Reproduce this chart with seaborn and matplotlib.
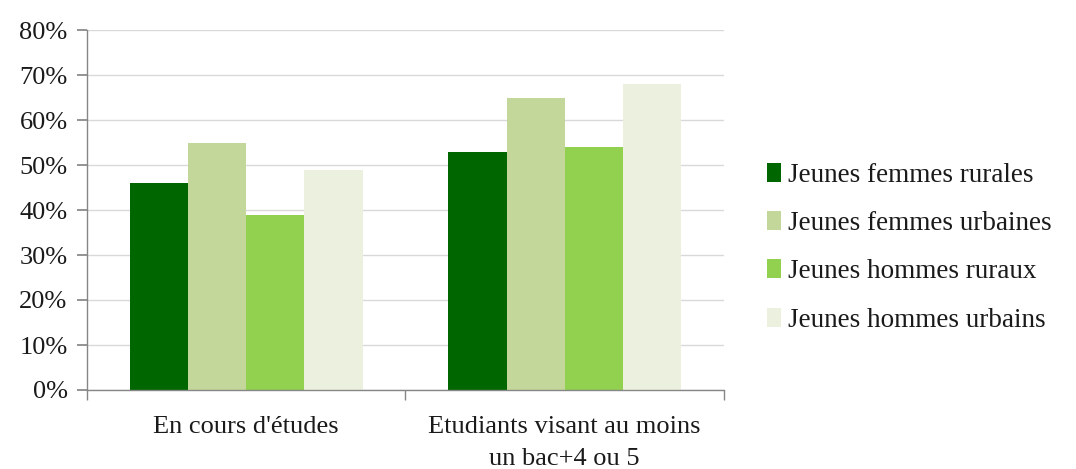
import pandas as pd
import matplotlib.pyplot as plt
import seaborn as sns
from matplotlib.ticker import PercentFormatter, FixedLocator

# Data
categories = ["En cours d'études", "Etudiants visant au moins\nun bac+4 ou 5"]
groups = ["Jeunes femmes rurales", "Jeunes femmes urbaines",
          "Jeunes hommes ruraux", "Jeunes hommes urbains"]
femmes_rurales = [46, 53]
femmes_urbaines = [55, 65]
hommes_ruraux = [39, 54]
hommes_urbains = [49, 68]
colors = ["#006600", "#C4D79B", "#92D050", "#EBF1DE"]
y_ticks = [0, 10, 20, 30, 40, 50, 60, 70, 80]

rows = []
for g, vals in zip(groups, [femmes_rurales, femmes_urbaines, hommes_ruraux, hommes_urbains]):
    for c, v in zip(categories, vals):
        rows.append({"Catégorie": c, "Groupe": g, "Valeur": v})
df = pd.DataFrame(rows)

sns.set_theme(style="white")
plt.rcParams['font.family'] = ['Liberation Serif', 'DejaVu Serif']

fig = plt.figure(figsize=(10.76, 4.69), dpi=100)
ax = fig.add_axes([87 / 1076, 1 - 390 / 469, (724 - 87) / 1076, 360 / 469])

sns.barplot(data=df, x="Catégorie", y="Valeur", hue="Groupe",
            hue_order=groups, order=categories, palette=colors,
            width=0.73, saturation=1, linewidth=0, ax=ax)

ax.set_xlim(-0.5, 1.5)
ax.set_ylim(0, 80)
ax.yaxis.set_major_locator(FixedLocator(y_ticks))
ax.yaxis.set_major_formatter(PercentFormatter(decimals=0))
ax.grid(axis="y", color="#D9D9D9", linewidth=1)
ax.set_axisbelow(True)
ax.set_xlabel("")
ax.set_ylabel("")

for side in ["top", "right"]:
    ax.spines[side].set_visible(False)
for side in ["left", "bottom"]:
    ax.spines[side].set_color("#868686")
    ax.spines[side].set_linewidth(1)

ax.tick_params(axis="y", left=True, length=7, color="#868686", labelsize=19,
               labelcolor="#1a1a1a", pad=7)
ax.tick_params(axis="x", bottom=False, labelsize=19, labelcolor="#1a1a1a", pad=13)
for lbl in ax.get_xticklabels():
    lbl.set_linespacing(1.55)
# boundary ticks on the category axis
ax.set_xticks([-0.5, 0.5, 1.5], minor=True)
ax.tick_params(axis="x", which="minor", bottom=True, length=7, color="#868686")

leg = ax.legend(loc="center left", bbox_to_anchor=(1.03, 0.395), frameon=False,
                fontsize=19.5, handlelength=0.5, handleheight=0.7,
                handletextpad=0.25, labelspacing=0.86)
for t in leg.get_texts():
    t.set_color("#1a1a1a")

fig.savefig("out.png", dpi=100)
